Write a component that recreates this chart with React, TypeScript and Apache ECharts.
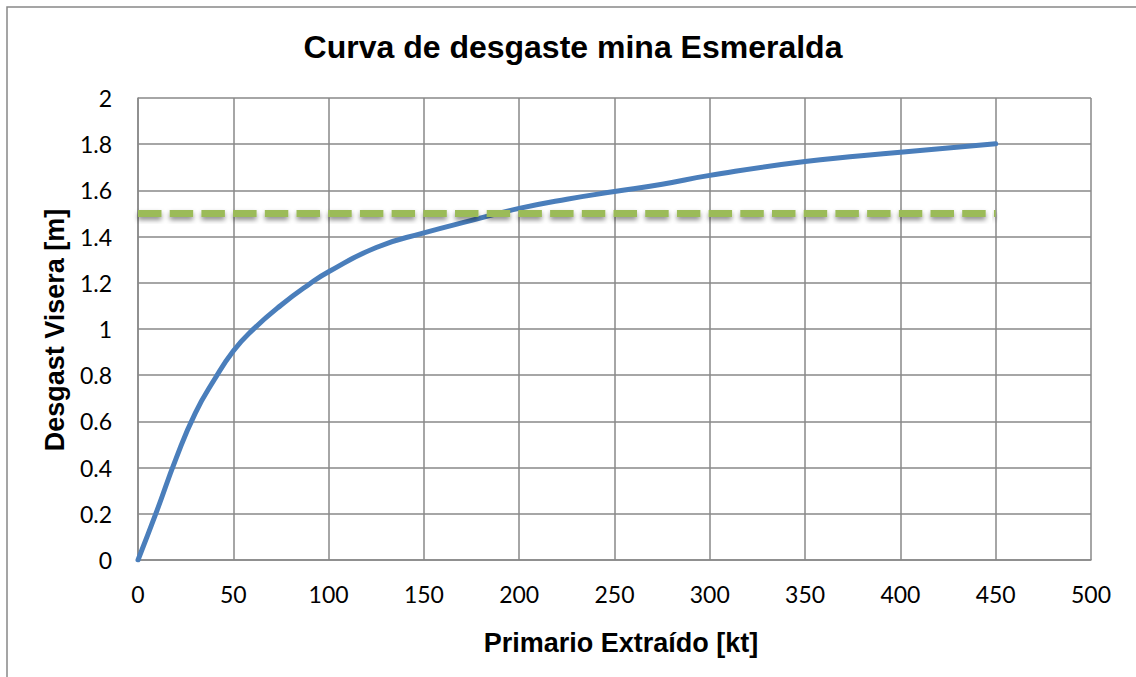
import React, { useEffect, useRef } from "react";
import * as echarts from "echarts";

const titleText = "Curva de desgaste mina Esmeralda";
const xAxisTitle = "Primario Extraído [kt]";
const yAxisTitle = "Desgast Visera [m]";

const extracted = [0, 10, 20, 30, 40, 50, 60, 75, 90, 100, 125, 150, 175, 200, 225, 250, 275, 300, 350, 400, 450];
const wear = [0, 0.215, 0.44, 0.635, 0.78, 0.905, 0.995, 1.103, 1.195, 1.248, 1.353, 1.416, 1.47, 1.522, 1.562, 1.595, 1.627, 1.665, 1.725, 1.765, 1.802];

const limitStart = [0];
const limitEnd = [450];
const limitValue = [1.5];

const xMin = 0;
const xMax = 500;
const xStep = 50;
const yMin = 0;
const yMax = 2;
const yStep = 0.2;

export default function App() {
  const ref = useRef<HTMLDivElement>(null);

  useEffect(() => {
    if (!ref.current) return;
    const chart = echarts.init(ref.current, undefined, { renderer: "svg" });
    const gridColor = "#898989";
    const dashLen = 23.5;
    const gapLen = 8.2;
    const dashW = 7;
    chart.setOption({
      animation: false,
      backgroundColor: "#ffffff",
      grid: { left: 138, top: 98, width: 953, height: 462, containLabel: false },
      xAxis: {
        type: "value",
        min: xMin,
        max: xMax,
        interval: xStep,
        axisLine: { show: true, lineStyle: { color: gridColor, width: 1.5 } },
        axisTick: { show: false },
        splitLine: { show: true, lineStyle: { color: gridColor, width: 1.5 } },
        axisLabel: { color: "#000", fontFamily: "Lato", fontSize: 23, margin: 22 },
      },
      yAxis: {
        type: "value",
        min: yMin,
        max: yMax,
        interval: yStep,
        axisLine: { show: true, lineStyle: { color: gridColor, width: 1.5 } },
        axisTick: { show: false },
        splitLine: { show: true, lineStyle: { color: gridColor, width: 1.5 } },
        axisLabel: { color: "#000", fontFamily: "Lato", fontSize: 23, margin: 26 },
      },
      graphic: [
        {
          type: "rect",
          shape: { x: 7, y: 7, width: 1160, height: 700 },
          style: { fill: "none", stroke: "#888888", lineWidth: 1.5 },
          silent: true,
        },
        {
          type: "text",
          x: 573,
          y: 47,
          style: {
            text: titleText,
            fontFamily: "Liberation Sans",
            fontWeight: "bold",
            fontSize: 32,
            fill: "#000",
            align: "center",
            verticalAlign: "middle",
          },
        },
        {
          type: "text",
          x: 621,
          y: 643,
          style: {
            text: xAxisTitle,
            fontFamily: "Liberation Sans",
            fontWeight: "bold",
            fontSize: 27,
            fill: "#000",
            align: "center",
            verticalAlign: "middle",
          },
        },
        {
          type: "text",
          x: 55,
          y: 330,
          rotation: Math.PI / 2,
          style: {
            text: yAxisTitle,
            fontFamily: "Liberation Sans",
            fontWeight: "bold",
            fontSize: 27,
            fill: "#000",
            align: "center",
            verticalAlign: "middle",
          },
        },
      ],
      series: [
        {
          name: "Desgaste",
          type: "line",
          data: extracted.map((x, i) => [x, wear[i]]),
          smooth: 0.5,
          showSymbol: false,
          lineStyle: { color: "#4A7EBB", width: 5, cap: "round" },
          z: 2,
        },
        {
          name: "Límite",
          type: "custom",
          data: limitStart.map((x, i) => [x, limitEnd[i], limitValue[i]]),
          encode: { x: [0, 1], y: 2 },
          z: 3,
          renderItem: (params: any, api: any) => {
            const p0 = api.coord([api.value(0), api.value(2)]);
            const p1 = api.coord([api.value(1), api.value(2)]);
            const children: any[] = [];
            let x = p0[0];
            while (x < p1[0] - 1) {
              const w = Math.min(dashLen, p1[0] - x);
              children.push({
                type: "rect",
                shape: { x, y: p0[1] - dashW / 2, width: w, height: dashW },
                style: {
                  fill: "#9BBB59",
                  shadowColor: "rgba(0,0,0,0.45)",
                  shadowBlur: 5,
                  shadowOffsetY: 3,
                },
              });
              x += dashLen + gapLen;
            }
            return { type: "group", children };
          },
        },
      ],
    });
    return () => chart.dispose();
  }, []);

  return (
    <div
      ref={ref}
      style={{ position: "fixed", left: 0, top: 0, width: 1136, height: 677, background: "#fff" }}
    />
  );
}
